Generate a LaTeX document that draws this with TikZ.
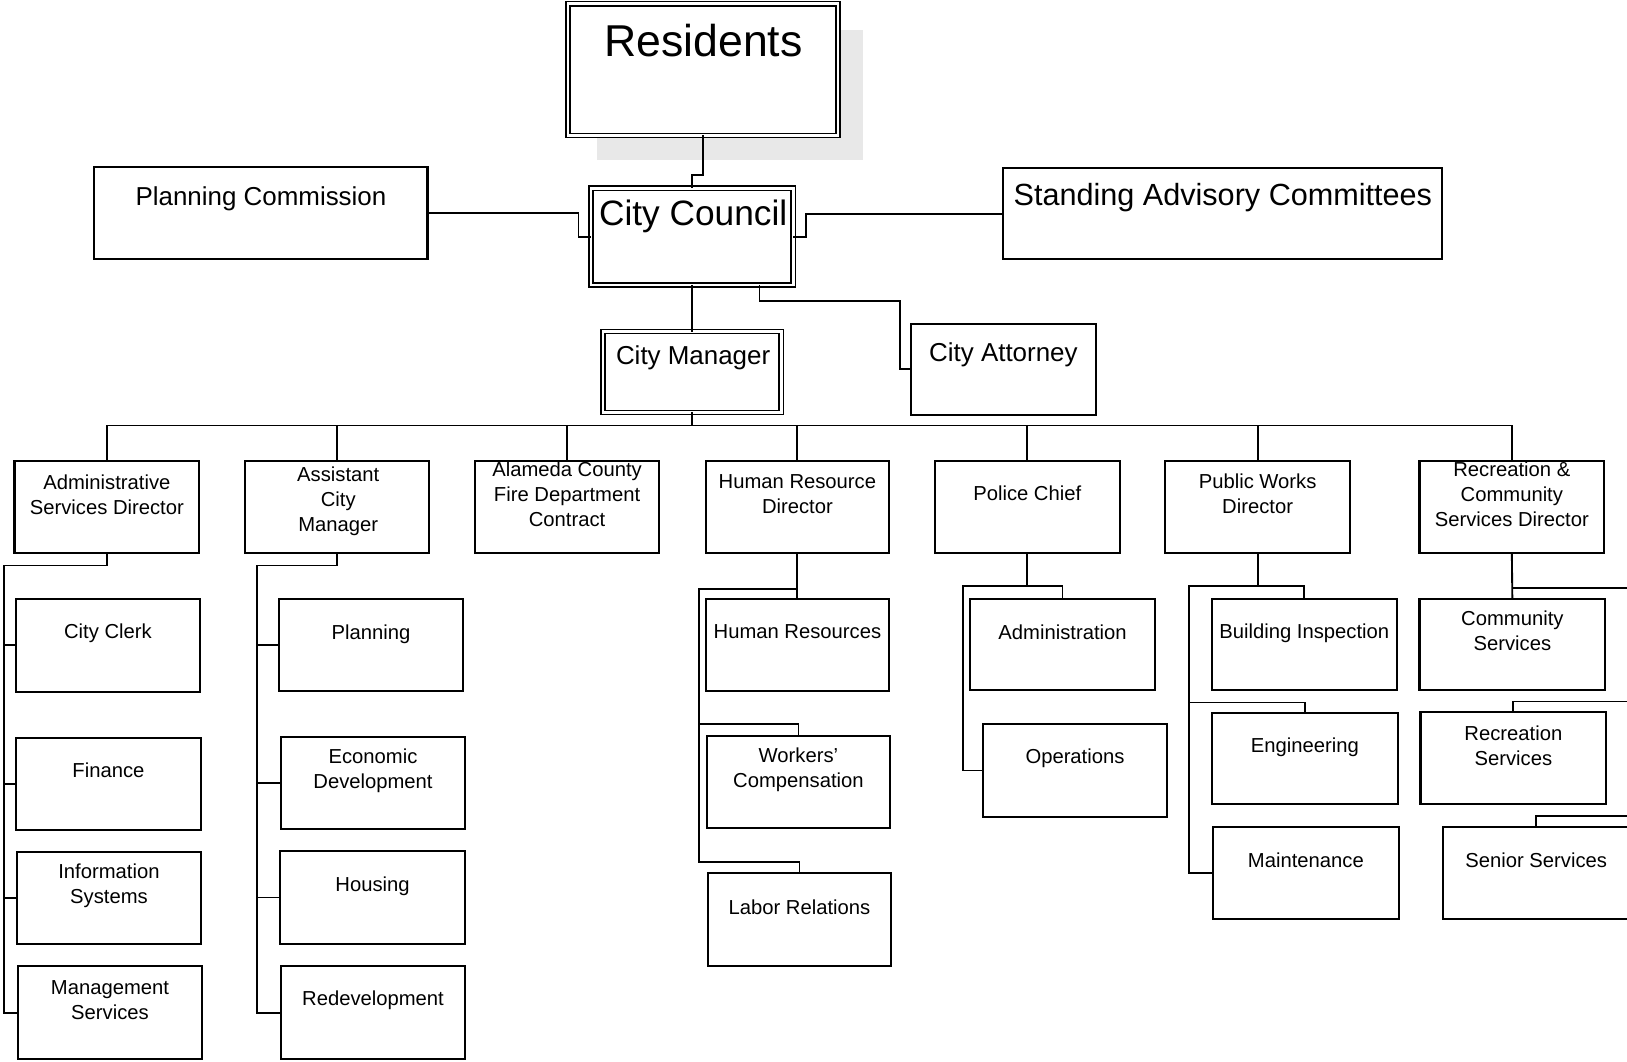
\documentclass[tikz,border=0pt]{standalone}
\usepackage{fontspec}
\setmainfont{Liberation Sans}
\usetikzlibrary{calc}
\tikzset{
  bx/.style n args={2}{draw, line width=2pt, anchor=north west, inner sep=0pt, outer sep=0pt, minimum width=#1pt, minimum height=#2pt},
  dbx/.style n args={2}{draw, line width=1.6pt, double=white, double distance=2.4pt, fill=white, anchor=north west, inner sep=0pt, outer sep=0pt, minimum width=#1pt, minimum height=#2pt},
  conn/.style={line width=1.8pt},
  t/.style={font=\fontsize{19.5}{24}\selectfont, align=center, inner sep=0pt},
  tm/.style={font=\fontsize{25}{30}\selectfont, align=center, inner sep=0pt},
}
\begin{document}
\begin{tikzpicture}[x=1pt,y=-1pt]
\useasboundingbox (0,0) rectangle (1568,1023);
\clip (0,0) rectangle (1568,1023);
% shadow of Residents
\fill[black!9] (575,29) rectangle (832,154);
% top boxes
\node[dbx={260}{127}] (res) at (547.5,3.5) {};
\node[dbx={195}{93}] (cc) at (569.5,181.5) {};
\node[dbx={172}{78}] (cm) at (581,319.5) {};
\node[bx={321}{89}] (pc) at (91,161) {};
\node[bx={423}{88}] (sac) at (967,162) {};
\node[bx={178}{88}] (ca) at (878,312) {};
% directors
\node[bx={178}{89}] (adm) at (14,444) {};
\node[bx={177}{89}] (acm) at (236,444) {};
\node[bx={177}{89}] (fire) at (458,444) {};
\node[bx={177}{89}] (hrd) at (680,444) {};
\node[bx={178}{89}] (pol) at (901,444) {};
\node[bx={178}{89}] (pw) at (1123,444) {};
\node[bx={178}{89}] (rec) at (1368,444) {};
% units
\node[bx={178}{90}] (clerk) at (15,577) {};
\node[bx={179}{89}] (fin) at (15,711) {};
\node[bx={178}{89}] (info) at (16,821) {};
\node[bx={178}{90}] (mgmt) at (17,931) {};
\node[bx={177}{89}] (plan) at (269,577) {};
\node[bx={177}{89}] (econ) at (271,710) {};
\node[bx={178}{90}] (hous) at (270,820) {};
\node[bx={177}{90}] (redev) at (271,931) {};
\node[bx={177}{89}] (hr) at (680,577) {};
\node[bx={177}{89}] (wc) at (681,709) {};
\node[bx={177}{90}] (lab) at (682,841) {};
\node[bx={178}{88}] (padm) at (935,577) {};
\node[bx={178}{89}] (ops) at (947,698) {};
\node[bx={178}{88}] (bi) at (1168,577) {};
\node[bx={179}{88}] (eng) at (1168,687) {};
\node[bx={179}{89}] (maint) at (1169,797) {};
\node[bx={179}{88}] (cs) at (1368,577) {};
\node[bx={179}{89}] (rs) at (1369,686) {};
\node[bx={179}{89}] (ss) at (1391,797) {};
% texts
\node[inner sep=0pt, font=\fontsize{43}{50}\selectfont] (tres) at (678,39) {Residents};
\node[inner sep=0pt, font=\fontsize{34}{40}\selectfont] (tcc) at (668,209) {City Council};
\node[tm] (tpc) at (251.5,192) {Planning Commission};
\node[inner sep=0pt, font=\fontsize{29.5}{35}\selectfont] (tsac) at (1178.5,190) {Standing Advisory Committees};
\node[tm] (tcm) at (668,345) {City Manager};
\node[tm] (tca) at (967,342) {City Attorney};
\node[t] (tadm) at (103,477) {Administrative\\Services Director};
\node[t] (tacm) at (326,483) {Assistant\\City\\Manager};
\node[t] (tfire) at (546.5,476) {Alameda County\\Fire Department\\Contract};
\node[t] (thrd) at (768.5,476) {Human Resource\\Director};
\node[t] (tpol) at (990,475) {Police Chief};
\node[t] (tpw) at (1212,476) {Public Works\\Director};
\node[t] (trec) at (1457,476) {Recreation \&\\Community\\Services Director};
\node[t] (tclerk) at (104,610) {City Clerk};
\node[t] (tfin) at (104.5,742) {Finance};
\node[t] (tinfo) at (105,854) {Information\\Systems};
\node[t] (tmgmt) at (106,964) {Management\\Services};
\node[t] (tplan) at (357.5,611) {Planning};
\node[t] (tecon) at (359.5,743) {Economic\\Development};
\node[t] (thous) at (359,854) {Housing};
\node[t] (tredev) at (359.5,964) {Redevelopment};
\node[t] (thr) at (768.5,609) {Human Resources};
\node[t] (twc) at (769.5,742) {Workers’\\Compensation};
\node[t] (tlab) at (770.5,874) {Labor Relations};
\node[t] (tpadm) at (1024,609) {Administration};
\node[t] (tops) at (1036,731) {Operations};
\node[t] (tbi) at (1257,610) {Building Inspection};
\node[t] (teng) at (1257.5,720) {Engineering};
\node[t] (tmaint) at (1258.5,829) {Maintenance};
\node[t] (tcs) at (1457.5,608) {Community\\Services};
\node[t] (trs) at (1458.5,718.5) {Recreation\\Services};
\node[t] (tss) at (1480.5,829) {Senior Services};
% coordinates
\coordinate (bus) at (668,410);
\coordinate (sA) at (4,545);
\coordinate (sB) at (248,545);
\coordinate (sC) at (674,568);
\coordinate (sD) at (928,565);
\coordinate (sE) at (1146,565);
\coordinate (eR1) at (1590,567);
\coordinate (eR2) at (1590,676);
\coordinate (eR3) at (1590,786);
% connectors top
\draw[conn] (res.south) |- ($(cc.north)+(0,-13)$) -- (cc.north);
\draw[conn] (pc.east) -| ($(cc.west)+(-12,0)$) -- (cc.west);
\draw[conn] (cc.east) -- ++(12,0) |- (sac.west);
\draw[conn] (cc.south) -- (cm.north);
\draw[conn] ($(cc.south)+(65,0)$) |- ($(ca.west)+(-11,-66)$) |- (ca.west);
% bus
\draw[conn] (cm.south) -- (cm.south |- bus);
\draw[conn] (adm.north) |- (bus) -| (rec.north);
\draw[conn] (acm.north) -- (acm.north |- bus);
\draw[conn] (fire.north) -- (fire.north |- bus);
\draw[conn] (hrd.north) -- (hrd.north |- bus);
\draw[conn] (pol.north) -- (pol.north |- bus);
\draw[conn] (pw.north) -- (pw.north |- bus);
% admin column
\draw[conn] (adm.south) |- (sA) |- (mgmt.west);
\draw[conn] (clerk.west) -- (clerk.west -| sA);
\draw[conn] (fin.west) -- (fin.west -| sA);
\draw[conn] (info.west) -- (info.west -| sA);
% assistant column
\draw[conn] (acm.south) |- (sB) |- (redev.west);
\draw[conn] (plan.west) -- (plan.west -| sB);
\draw[conn] (econ.west) -- (econ.west -| sB);
\draw[conn] (hous.west) -- (hous.west -| sB);
% HR column
\draw[conn] (hrd.south) -- (hr.north);
\draw[conn] (sC -| hrd.south) -- (sC) |- ($(lab.north)+(0,-10)$) -- (lab.north);
\draw[conn] (wc.north) -- ++(0,-11) -| (sC);
% police column
\draw[conn] (pol.south) -- (pol.south |- sD);
\draw[conn] (padm.north) |- (sD) |- (ops.west);
% public works column
\draw[conn] (pw.south) -- (pw.south |- sE);
\draw[conn] (bi.north) |- (sE) |- (maint.west);
\draw[conn] (eng.north) -- ++(0,-10) -| (sE);
% recreation column
\draw[conn] (rec.south) -- (cs.north);
\draw[conn] (rec.south |- eR1) -- (eR1);
\draw[conn] (rs.north) |- (eR2);
\draw[conn] (ss.north) |- (eR3);
\end{tikzpicture}
\end{document}
